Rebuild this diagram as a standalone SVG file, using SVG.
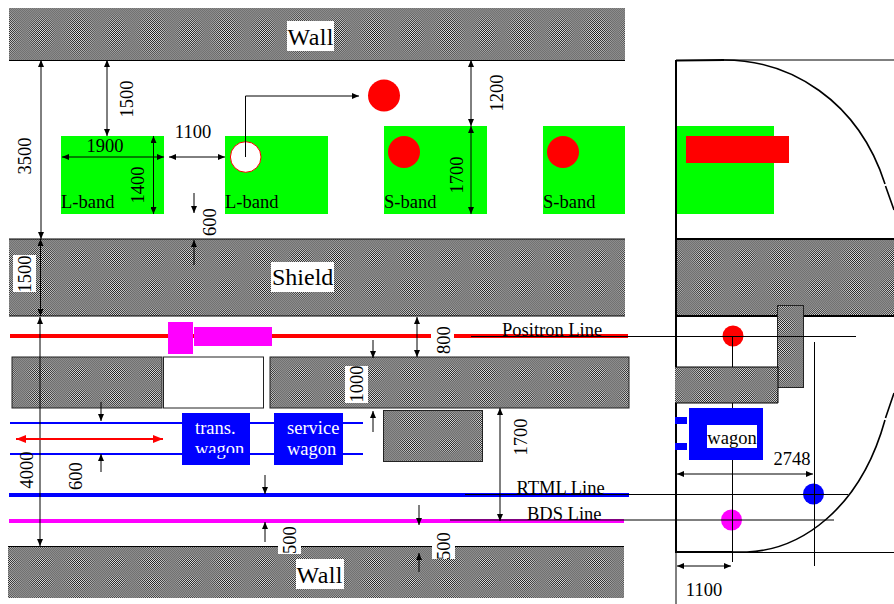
<svg xmlns="http://www.w3.org/2000/svg" width="894" height="604" viewBox="0 0 894 604">
<style>
text{font-family:"Liberation Serif","Times New Roman",serif;font-size:18.5px;fill:#000}
.big{font-size:24px}
.wt{fill:#fff}
.mid{text-anchor:middle}
.bg{fill:#fff}
.grn{fill:#0f0}
.red{fill:#f00}
.blu{fill:#00f}
.mag{fill:#f0f}
.box{stroke:#222;stroke-width:1}
.d{fill:none;stroke:#000;stroke-width:1;marker-end:url(#a)}
.dd{fill:none;stroke:#000;stroke-width:1;marker-start:url(#a);marker-end:url(#a)}
.t{fill:none;stroke:#000;stroke-width:1}
.w{fill:none;stroke:#000;stroke-width:2}
</style>
<defs>
<marker id="a" markerUnits="userSpaceOnUse" markerWidth="7" markerHeight="6" refX="7" refY="3" orient="auto-start-reverse"><path d="M0,0L7,3L0,6z" fill="#000"/></marker>
<marker id="r" markerUnits="userSpaceOnUse" markerWidth="10" markerHeight="8" refX="10" refY="4" orient="auto-start-reverse"><path d="M0,0L10,4L0,8z" fill="#f00"/></marker>
<pattern id="lo" patternUnits="userSpaceOnUse" width="2" height="2"><rect width="2" height="2" fill="#8c8c8c"/><rect width="1" height="1" fill="#727272"/><rect x="1" y="1" width="1" height="1" fill="#727272"/></pattern>
<pattern id="hi" patternUnits="userSpaceOnUse" width="2" height="2"><rect width="2" height="2" fill="#e8e8e8"/><rect width="1" height="1" fill="#181818"/><rect x="1" y="1" width="1" height="1" fill="#181818"/></pattern>
<radialGradient id="rg"><stop offset="0" stop-color="#fff"/><stop offset=".55" stop-color="#fff" stop-opacity=".55"/><stop offset="1" stop-color="#fff" stop-opacity="0"/></radialGradient>
<mask id="mk" maskContentUnits="objectBoundingBox" x="0" y="0" width="1" height="1"><rect width="1" height="1" fill="url(#rg)"/></mask>
<pattern id="b30" patternUnits="userSpaceOnUse" width="37" height="30" patternTransform="translate(23,243)"><rect width="37" height="30" fill="url(#hi)" mask="url(#mk)"/></pattern>
<pattern id="bt" patternUnits="userSpaceOnUse" width="37" height="52" patternTransform="translate(23,8)"><rect width="37" height="52" fill="url(#hi)" mask="url(#mk)"/></pattern>
<pattern id="b24" patternUnits="userSpaceOnUse" width="37" height="24" patternTransform="translate(23,361)"><rect width="37" height="24" fill="url(#hi)" mask="url(#mk)"/></pattern>
<pattern id="b20" patternUnits="userSpaceOnUse" width="37" height="20" patternTransform="translate(23,552)"><rect width="37" height="20" fill="url(#hi)" mask="url(#mk)"/></pattern>
</defs>
<rect width="894" height="604" fill="#fff"/>

<g id="wall-top"><rect x="9" y="8" width="616" height="52" fill="url(#lo)"/><rect x="9" y="8" width="616" height="52" fill="url(#bt)"/><path class="t" d="M9,60.5H625"/><rect class="bg" x="287" y="21" width="47" height="30"/><text class="big" x="287.5" y="45" textLength="46">Wall</text></g>
<g id="shield"><rect x="9" y="239" width="616" height="77" fill="url(#lo)"/><rect x="9" y="239" width="616" height="77" fill="url(#b30)"/><path class="t" d="M9,239H625M9,316H625"/><rect class="bg" x="271" y="262" width="63" height="30"/><text class="big" x="272" y="285">Shield</text></g>
<g id="wall-bottom"><rect x="8" y="546" width="616" height="52" fill="url(#lo)"/><rect x="8" y="546" width="616" height="52" fill="url(#b20)"/><path class="t" d="M8,546.5H624"/><rect class="bg" x="296" y="559" width="48" height="30"/><text class="big" x="296.5" y="583" textLength="46">Wall</text></g>

<g id="lband-1"><rect class="grn" x="61" y="136" width="103" height="78"/><text x="61" y="208">L-band</text></g>
<g id="lband-2"><rect class="grn" x="225" y="136" width="103" height="78"/><circle cx="245.7" cy="157" r="15.3" fill="#fff" stroke="#f00" stroke-width="1"/><text x="225" y="208">L-band</text></g>
<g id="sband-1"><rect class="grn" x="384" y="126" width="103" height="88"/><circle class="red" cx="404" cy="152" r="16"/><text x="384" y="208">S-band</text></g>
<g id="sband-2"><rect class="grn" x="543" y="126" width="82" height="88"/><circle class="red" cx="563" cy="152" r="16"/><text x="543" y="208">S-band</text></g>
<g id="red-dot"><circle class="red" cx="384" cy="95.5" r="16"/></g>

<g id="positron-line"><path d="M10,336H431M454,336H628" stroke="#f00" stroke-width="4" fill="none"/><rect class="mag" x="168" y="322" width="25" height="32"/><rect class="mag" x="194" y="327" width="78" height="19"/></g>
<g id="block-left"><rect x="12" y="357" width="150" height="51" fill="url(#lo)"/><rect x="12" y="357" width="150" height="51" fill="url(#b24)"/><rect class="box" x="12" y="357" width="150" height="51" fill="none"/></g>
<g id="block-white"><rect class="box" x="163.5" y="357" width="100" height="51" fill="#fff"/></g>
<g id="block-right"><rect x="270" y="357" width="359" height="51" fill="url(#lo)"/><rect x="270" y="357" width="359" height="51" fill="url(#b24)"/><rect class="box" x="270" y="357" width="359" height="51" fill="none"/><rect class="bg" x="345" y="366" width="23" height="37"/></g>
<g id="block-small"><rect x="383" y="410" width="100" height="52" fill="url(#lo)"/><rect x="383" y="410" width="100" height="52" fill="url(#b24)"/><rect class="box" x="383.5" y="410.5" width="99" height="51" fill="none"/></g>

<g id="wagon-rails"><path d="M10,423H363M10,454H363" stroke="#00f" stroke-width="2" fill="none"/></g>
<g id="wagon-trans"><rect class="blu" x="182" y="413" width="68" height="52"/><text class="wt" x="195" y="434">trans.</text><text class="wt" x="195" y="455">wagon</text><rect class="blu" x="182" y="453" width="68" height="2"/></g>
<g id="wagon-service"><rect class="blu" x="274" y="413" width="69" height="52"/><text class="wt" x="287" y="434">service</text><text class="wt" x="287" y="455">wagon</text></g>
<g id="rtml-line"><path d="M9,495H629" stroke="#00f" stroke-width="4" fill="none"/></g>
<g id="bds-line"><path d="M9,521H624" stroke="#f0f" stroke-width="4" fill="none"/></g>

<g id="section">
<rect class="grn" x="676" y="126" width="98" height="88"/><rect class="red" x="686" y="136" width="103" height="27"/>
<rect x="676" y="239" width="218" height="77" fill="url(#lo)"/><rect x="676" y="239" width="218" height="77" fill="url(#b30)"/>
<path class="t" d="M724,60H894"/><path class="w" d="M676,239H894M676,316H894M676,60.5L724,60M676,60V552H733"/>
<path fill="none" stroke="#000" stroke-width="1.6" d="M724,60C790,60 858,100 885,184M885.500,186L894,210M733,552H747C800,550 860,510 885,420M885.500,418L894,393"/>
<path class="t" d="M733,552.500H894"/>
<rect x="777" y="305" width="27" height="83" fill="url(#lo)"/><rect x="777" y="305" width="27" height="83" fill="url(#b24)"/><rect class="box" x="777.500" y="305.500" width="26" height="82" fill="none"/>
<rect x="675" y="367" width="103" height="36" fill="url(#lo)"/><rect x="675" y="367" width="103" height="36" fill="url(#b24)"/><path class="t" d="M675,403H778V367H675"/>
</g>
<g id="section-wagon"><rect class="blu" x="689" y="408" width="74" height="52"/><rect class="blu" x="675" y="417" width="12" height="7"/><rect class="blu" x="675" y="443" width="12" height="7"/><rect class="bg" x="707" y="425" width="50" height="23"/><text class="mid" x="732" y="444">wagon</text></g>
<g id="beam-positron"><circle class="red" cx="733" cy="336" r="10.500"/></g>
<g id="beam-rtml"><circle class="blu" cx="813.500" cy="494" r="10.500"/></g>
<g id="beam-bds"><circle class="mag" cx="731.500" cy="520" r="10.500"/></g>

<g id="connectors">
<path class="dd" d="M41,60V239"/>
<path class="dd" d="M107,60V136"/>
<path class="dd" d="M62,157H164"/>
<path class="dd" d="M153.500,136V214"/>
<path class="dd" d="M169,157H225"/>
<path class="d" d="M194,193V213"/>
<path class="d" d="M194,265V240"/>
<path class="d" d="M245.500,157V96H359"/>
<path class="dd" d="M471,60V126"/>
<path class="dd" d="M471,126V214"/>
<path class="dd" d="M40.500,239V316"/>
<path class="dd" d="M40,317V546"/>
<path class="dd" d="M417,317V357"/>
<path class="d" d="M373,340V358"/>
<path class="d" d="M373,432V411"/>
<path class="dd" d="M500,408V521"/>
<path class="d" d="M101,402V421"/>
<path class="d" d="M101,472V454"/>
<path class="d" d="M265,475V494"/>
<path class="d" d="M265,542V522"/>
<path class="d" d="M419,505V525"/>
<path class="d" d="M419,572V553"/>
<path d="M16,439H163" fill="none" stroke="#f00" stroke-width="2" marker-start="url(#r)" marker-end="url(#r)"/>
<path class="t" d="M471,336.500H856M465,494.500H848M450,520H834M732.500,336V367M732.500,403V408M732.500,460V562M814.500,342V566M676,552V604"/>
<path class="dd" d="M677,474H813"/>
<path class="dd" d="M677,566H731"/>
</g>

<g id="labels">
<rect class="bg" x="13" y="255" width="23" height="37"/>
<rect class="bg" x="278" y="527" width="23" height="27"/>
<rect class="bg" x="432" y="532" width="23" height="27"/>
<text class="mid" x="105" y="152">1900</text>
<text class="mid" x="193" y="138">1100</text>
<text x="502" y="336">Positron Line</text>
<text x="516.500" y="494">RTML Line</text>
<text x="527" y="520">BDS Line</text>
<text class="mid" x="792" y="465">2748</text>
<text class="mid" x="704" y="596">1100</text>
<text class="mid" transform="translate(133,99) rotate(-90)">1500</text>
<text class="mid" transform="translate(31,156) rotate(-90)">3500</text>
<text class="mid" transform="translate(144,185) rotate(-90)">1400</text>
<text class="mid" transform="translate(216,222) rotate(-90)">600</text>
<text class="mid" transform="translate(503,93) rotate(-90)">1200</text>
<text class="mid" transform="translate(463,175) rotate(-90)">1700</text>
<text class="mid" transform="translate(31,274) rotate(-90)">1500</text>
<text class="mid" transform="translate(450,340) rotate(-90)">800</text>
<text class="mid" transform="translate(363,384) rotate(-90)">1000</text>
<text class="mid" transform="translate(527,437) rotate(-90)">1700</text>
<text class="mid" transform="translate(33,470) rotate(-90)">4000</text>
<text class="mid" transform="translate(82,476) rotate(-90)">600</text>
<text class="mid" transform="translate(296,540) rotate(-90)">500</text>
<text class="mid" transform="translate(450,546) rotate(-90)">500</text>
</g>
</svg>
